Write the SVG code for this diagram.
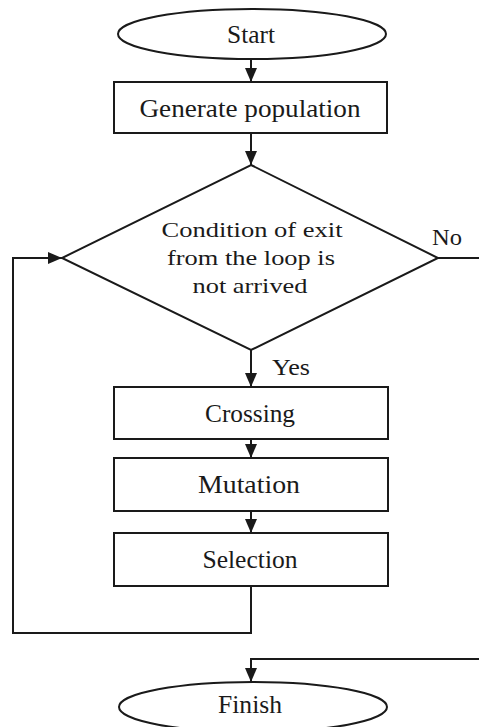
<svg xmlns="http://www.w3.org/2000/svg" width="479" height="727" viewBox="0 0 479 727">
  <style>
    .shape { fill: #ffffff; stroke: #1a1a1a; stroke-width: 2; }
    .edge { fill: none; stroke: #1a1a1a; stroke-width: 2; }
    .label { font-family: "Liberation Serif", "Times New Roman", serif; font-size: 25px; fill: #1a1a1a; text-anchor: middle; }
    .cond { font-family: "Liberation Serif", "Times New Roman", serif; font-size: 22px; fill: #1a1a1a; text-anchor: middle; }
    .tag { font-family: "Liberation Serif", "Times New Roman", serif; font-size: 23px; fill: #1a1a1a; }
  </style>
  <defs>
    <marker id="arrow" viewBox="0 0 14 12" refX="14" refY="6" markerWidth="14" markerHeight="12" markerUnits="userSpaceOnUse" orient="auto">
      <path d="M0,0 L14,6 L0,12 Z" fill="#1a1a1a"/>
    </marker>
  </defs>

  <rect width="479" height="727" fill="#ffffff"/>

  <!-- connectors -->
  <g id="connectors">
    <path class="edge" d="M251,59 V82" marker-end="url(#arrow)"/>
    <path class="edge" d="M251,133 V165" marker-end="url(#arrow)"/>
    <path class="edge" d="M251,350 V387" marker-end="url(#arrow)"/>
    <path class="edge" d="M251,439 V458" marker-end="url(#arrow)"/>
    <path class="edge" d="M251,511 V533" marker-end="url(#arrow)"/>
    <!-- loop back from Selection to the condition -->
    <path class="edge" d="M251,586 V633 H13 V258 H62" marker-end="url(#arrow)"/>
    <!-- exit branch runs off the right edge and returns to Finish -->
    <path class="edge" d="M438,258 H492 V659 H251 V682" marker-end="url(#arrow)"/>
    <text class="tag" x="432" y="245" textLength="30" lengthAdjust="spacingAndGlyphs">No</text>
    <text class="tag" x="272" y="375" textLength="38" lengthAdjust="spacingAndGlyphs">Yes</text>
  </g>

  <g id="start">
    <ellipse class="shape" cx="252" cy="34" rx="134" ry="25"/>
    <text class="label" x="251" y="43" textLength="48" lengthAdjust="spacingAndGlyphs">Start</text>
  </g>

  <g id="generate">
    <rect class="shape" x="114" y="82" width="273" height="51"/>
    <text class="label" x="250" y="117" textLength="221" lengthAdjust="spacingAndGlyphs">Generate population</text>
  </g>

  <g id="condition">
    <polygon class="shape" points="251,165 438,258 251,350 62,258"/>
    <text class="cond" x="252" y="237" textLength="181" lengthAdjust="spacingAndGlyphs">Condition of exit</text>
    <text class="cond" x="251" y="265" textLength="168" lengthAdjust="spacingAndGlyphs">from the loop is</text>
    <text class="cond" x="250" y="293" textLength="115" lengthAdjust="spacingAndGlyphs">not arrived</text>
  </g>

  <g id="crossing">
    <rect class="shape" x="114" y="387" width="274" height="52"/>
    <text class="label" x="250" y="422" textLength="90" lengthAdjust="spacingAndGlyphs">Crossing</text>
  </g>

  <g id="mutation">
    <rect class="shape" x="114" y="458" width="274" height="53"/>
    <text class="label" x="249" y="493" textLength="102" lengthAdjust="spacingAndGlyphs">Mutation</text>
  </g>

  <g id="selection">
    <rect class="shape" x="114" y="533" width="274" height="53"/>
    <text class="label" x="250" y="568" textLength="95" lengthAdjust="spacingAndGlyphs">Selection</text>
  </g>

  <g id="finish">
    <ellipse class="shape" cx="253" cy="707" rx="134" ry="25"/>
    <text class="label" x="250" y="713" textLength="64" lengthAdjust="spacingAndGlyphs">Finish</text>
  </g>
</svg>
